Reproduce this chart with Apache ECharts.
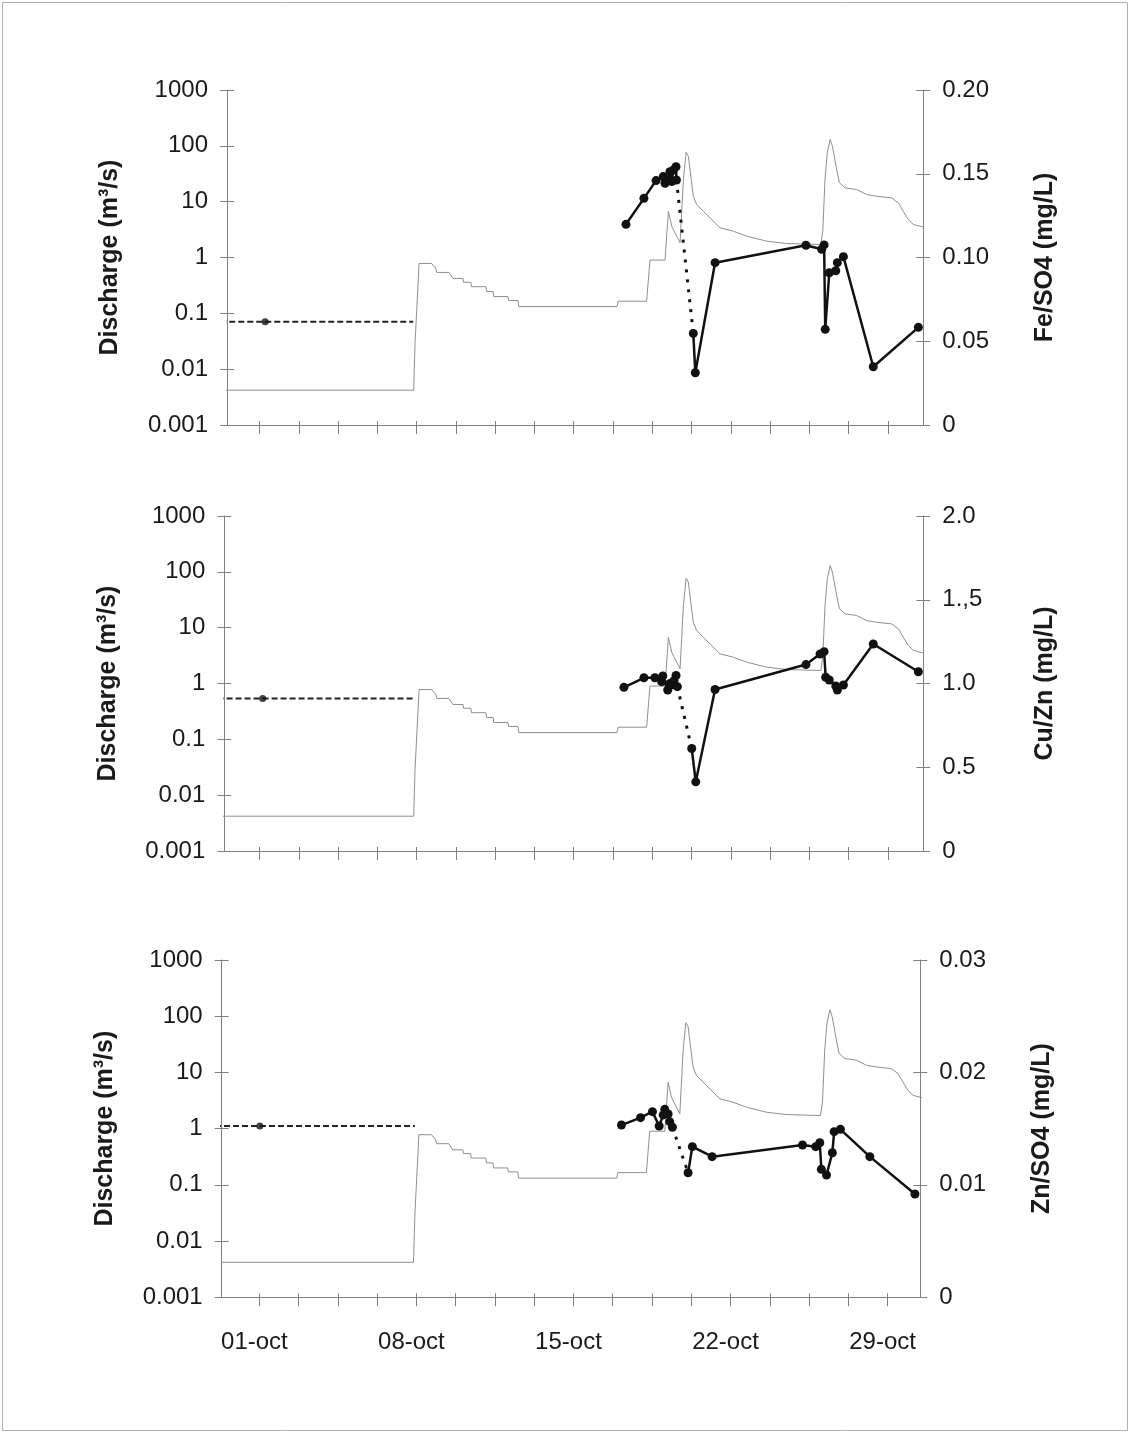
<!DOCTYPE html>
<html><head><meta charset="utf-8">
<script src="https://cdn.jsdelivr.net/npm/echarts@6/dist/echarts.min.js"></script>
<style>html,body{margin:0;padding:0;background:#fff}#c{width:1131px;height:1434px}</style>
</head><body><div id="c"></div>
<script>
// ---------- DATA (x = days after 01-oct 00:00) ----------
const dischargeDays = [-1.7, 6.87, 6.93, 7.01, 7.11, 7.67, 7.85, 7.90, 8.44, 8.62, 9.07, 9.09, 9.42, 9.44, 10.09, 10.12, 10.41, 10.44, 11.07, 11.10, 11.52, 11.55, 15.93, 15.98, 17.25, 17.40, 18.07, 18.22, 18.37, 18.74, 18.89, 19.01, 19.11, 19.22, 19.33, 19.48, 19.78, 20.08, 20.52, 21.11, 21.71, 22.60, 23.49, 25.01, 25.10, 25.20, 25.30, 25.43, 25.53, 25.72, 25.84, 26.09, 26.61, 27.06, 27.50, 28.17, 28.47, 28.69, 28.91, 29.14, 29.60];
const dischargeQ    = [0.0042, 0.0042, 0.029, 0.029, 0.78, 0.78, 0.64, 0.54, 0.54, 0.42, 0.42, 0.36, 0.36, 0.30, 0.30, 0.246, 0.246, 0.20, 0.20, 0.17, 0.17, 0.132, 0.132, 0.165, 0.165, 0.90, 0.90, 6.7, 3.6, 1.83, 25, 77, 65, 28.6, 12.5, 8.9, 6.7, 5.1, 3.4, 2.96, 2.41, 1.96, 1.78, 1.71, 2.96, 25, 75, 130, 98.6, 37.7, 21.8, 17.7, 16.5, 13.4, 12.5, 11.7, 9.5, 6.7, 4.8, 3.9, 3.5];

// Fe/SO4 (mg/L)
const feBaseValue = 0.0617, feBaseDotDay = 0.25, feBaseEndDay = 6.85;
const feDaysA = [16.33, 17.13, 17.67, 17.99, 18.07, 18.22, 18.29, 18.37, 18.44, 18.56, 18.58];
const feValsA = [0.1198, 0.1353, 0.1459, 0.1483, 0.1443, 0.1463, 0.1512, 0.1453, 0.1522, 0.1542, 0.1463];
const feDaysB = [19.33, 19.42, 20.30, 24.35, 25.05, 25.16, 25.21, 25.39, 25.68, 25.75, 26.02, 27.35, 29.36];
const feValsB = [0.0547, 0.0312, 0.0969, 0.1073, 0.1049, 0.1075, 0.0571, 0.0909, 0.0921, 0.0969, 0.1005, 0.0348, 0.0583];

// Cu/Zn (mg/L)
const cuBaseValue = 0.911, cuBaseDotDay = 0.14, cuBaseEndDay = 6.85;
const cuDaysA = [16.24, 17.13, 17.62, 17.92, 17.97, 18.19, 18.29, 18.37, 18.47, 18.56, 18.62];
const cuValsA = [0.977, 1.034, 1.034, 1.011, 1.045, 0.961, 1.000, 0.991, 1.017, 1.048, 0.981];
const cuDaysB = [19.26, 19.44, 20.30, 24.35, 24.98, 25.16, 25.23, 25.39, 25.68, 25.75, 26.02, 27.35, 29.36];
const cuValsB = [0.612, 0.413, 0.964, 1.113, 1.176, 1.190, 1.037, 1.021, 0.985, 0.961, 0.991, 1.236, 1.070];

// Zn/SO4 (mg/L)
const znBaseValue = 0.01524, znBaseDotDay = 0.02, znBaseEndDay = 6.93;
const znDaysA = [16.14, 16.99, 17.52, 17.82, 18.00, 18.07, 18.22, 18.29, 18.41];
const znValsA = [0.01532, 0.01598, 0.01651, 0.01524, 0.01622, 0.01672, 0.01630, 0.01562, 0.01512];
const znDaysB = [19.11, 19.30, 20.18, 24.21, 24.80, 24.98, 25.05, 25.28, 25.54, 25.62, 25.90, 27.21, 29.22];
const znValsB = [0.01108, 0.01340, 0.01251, 0.01355, 0.01340, 0.01375, 0.01138, 0.01088, 0.01286, 0.01473, 0.01494, 0.01251, 0.00919];

// Tick labels
const xTickDays  = [0, 1.75, 3.5, 5.25, 7, 8.75, 10.5, 12.25, 14, 15.75, 17.5, 19.25, 21, 22.75, 24.5, 26.25, 28];
const xLabelDays = [0, 7, 14, 21, 28];
const xLabels    = ['01-oct', '08-oct', '15-oct', '22-oct', '29-oct'];
const logLabels  = ['0.001', '0.01', '0.1', '1', '10', '100', '1000'];
const feLabels   = ['0', '0.05', '0.10', '0.15', '0.20'];
const cuLabels   = ['0', '0.5', '1.0', '1.,5', '2.0'];
const znLabels   = ['0', '0.01', '0.02', '0.03'];

// ---------- CHART ----------
const W = 1131;
const zip = (a, b) => a.map((v, i) => [v, b[i]]);
const AXIS = '#808080', TXT = '#1a1a1a', FONT = 'Liberation Sans, Arial, sans-serif';
const TICKFS = 24, NAMEFS = 25;

const panels = [
  {top: 90, bottom: 425, left: 227, right: 923.3, xMin: -1.45, xMax: 29.58, xLab: false,
   rName: 'Fe/SO4 (mg/L)', rMax: 0.2, rInt: 0.05, rLabels: feLabels,
   base: feBaseValue, dot: feBaseDotDay, baseEnd: feBaseEndDay, dA: feDaysA, vA: feValsA, dB: feDaysB, vB: feValsB},
  {top: 516, bottom: 851, left: 224.3, right: 923.3, xMin: -1.57, xMax: 29.58, xLab: false,
   rName: 'Cu/Zn (mg/L)', rMax: 2, rInt: 0.5, rLabels: cuLabels,
   base: cuBaseValue, dot: cuBaseDotDay, baseEnd: cuBaseEndDay, dA: cuDaysA, vA: cuValsA, dB: cuDaysB, vB: cuValsB},
  {top: 960, bottom: 1297.3, left: 221.7, right: 920.3, xMin: -1.68, xMax: 29.46, xLab: true,
   rName: 'Zn/SO4 (mg/L)', rMax: 0.03, rInt: 0.01, rLabels: znLabels,
   base: znBaseValue, dot: znBaseDotDay, baseEnd: znBaseEndDay, dA: znDaysA, vA: znValsA, dB: znDaysB, vB: znValsB}
];

const grid = [], xAxis = [], yAxis = [], series = [];
panels.forEach((p, i) => {
  grid.push({left: p.left, width: p.right - p.left, top: p.top, height: p.bottom - p.top});
  const xBase = {type: 'value', gridIndex: i, position: 'bottom', min: p.xMin, max: p.xMax, splitLine: {show: false}};
  xAxis.push(Object.assign({}, xBase, {
    axisLine: {onZero: false, lineStyle: {color: AXIS, width: 1}},
    axisTick: {show: true, length: 9, customValues: xTickDays, lineStyle: {color: AXIS}},
    axisLabel: {show: p.xLab, customValues: xLabelDays, margin: 33, fontSize: TICKFS, color: TXT, fontFamily: FONT,
      padding: [0, 10, 0, 0],
      formatter: v => { const k = xLabelDays.findIndex(d => Math.abs(d - v) < 1e-6); return k >= 0 ? xLabels[k] : ''; }}
  }));
  xAxis.push(Object.assign({}, xBase, {
    axisLine: {show: false, onZero: false},
    axisTick: {show: true, inside: true, length: 4, customValues: xTickDays, lineStyle: {color: AXIS}},
    axisLabel: {show: false}
  }));
  const yLog = {type: 'log', logBase: 10, gridIndex: i, min: 0.001, max: 1000, splitNumber: 6, position: 'left', splitLine: {show: false}};
  const yR = {type: 'value', gridIndex: i, min: 0, max: p.rMax, interval: p.rInt, position: 'right', splitLine: {show: false}};
  yAxis.push(Object.assign({}, yLog, {
    name: 'Discharge (m³/s)', nameLocation: 'middle', nameRotate: 90, nameGap: 104,
    nameTextStyle: {fontSize: NAMEFS, fontWeight: 'bold', color: TXT, fontFamily: FONT},
    axisLine: {show: true, onZero: false, lineStyle: {color: AXIS}},
    axisTick: {show: true, length: 7, lineStyle: {color: AXIS}},
    axisLabel: {margin: 19, fontSize: TICKFS, color: TXT, fontFamily: FONT,
      formatter: v => logLabels[Math.round(Math.log10(v)) + 3]}
  }));
  yAxis.push(Object.assign({}, yR, {
    name: p.rName, nameLocation: 'middle', nameRotate: 90, nameGap: 109,
    nameTextStyle: {fontSize: NAMEFS, fontWeight: 'bold', color: TXT, fontFamily: FONT},
    axisLine: {show: true, onZero: false, lineStyle: {color: AXIS}},
    axisTick: {show: true, length: 7, lineStyle: {color: AXIS}},
    axisLabel: {margin: 19, fontSize: TICKFS, color: TXT, fontFamily: FONT,
      formatter: v => p.rLabels[Math.round(v / p.rInt)]}
  }));
  yAxis.push(Object.assign({}, yLog, {axisLine: {show: false, onZero: false}, axisLabel: {show: false},
    axisTick: {show: true, inside: true, length: 7, lineStyle: {color: AXIS}}}));
  yAxis.push(Object.assign({}, yR, {axisLine: {show: false, onZero: false}, axisLabel: {show: false},
    axisTick: {show: true, inside: true, length: 7, lineStyle: {color: AXIS}}}));

  const xi = 2 * i, yl = 4 * i, yr = 4 * i + 1;
  series.push({type: 'line', xAxisIndex: xi, yAxisIndex: yl, data: zip(dischargeDays, dischargeQ),
    showSymbol: false, symbol: 'none', z: 2, lineStyle: {color: '#8f8f8f', width: 1}});
  series.push({type: 'line', xAxisIndex: xi, yAxisIndex: yr, data: [[p.xMin - 0.3, p.base], [p.baseEnd, p.base]],
    symbol: 'none', z: 3, lineStyle: {color: '#222', width: 2, type: [6, 3]}});
  series.push({type: 'scatter', xAxisIndex: xi, yAxisIndex: yr, data: [[p.dot, p.base]],
    symbolSize: 7, z: 4, itemStyle: {color: '#111'}});
  series.push({type: 'line', xAxisIndex: xi, yAxisIndex: yr,
    data: [[p.dA[p.dA.length - 1], p.vA[p.vA.length - 1]], [p.dB[0], p.vB[0]]],
    symbol: 'none', z: 3, lineStyle: {color: '#111', width: 3, type: [3, 7]}});
  [[p.dA, p.vA], [p.dB, p.vB]].forEach(([d, v]) => {
    series.push({type: 'line', xAxisIndex: xi, yAxisIndex: yr, data: zip(d, v),
      symbol: 'circle', symbolSize: 9, showSymbol: true, z: 4,
      itemStyle: {color: '#111'}, lineStyle: {color: '#111', width: 2.5}});
  });
});

const chart = echarts.init(document.getElementById('c'), null, {renderer: 'canvas'});
chart.setOption({
  animation: false,
  backgroundColor: '#fff',
  graphic: [{type: 'rect', shape: {x: 2.5, y: 2.5, width: W - 6, height: 1428}, silent: true,
    style: {fill: 'none', stroke: '#b0b0b0', lineWidth: 1}}],
  grid, xAxis, yAxis, series
});
</script></body></html>
